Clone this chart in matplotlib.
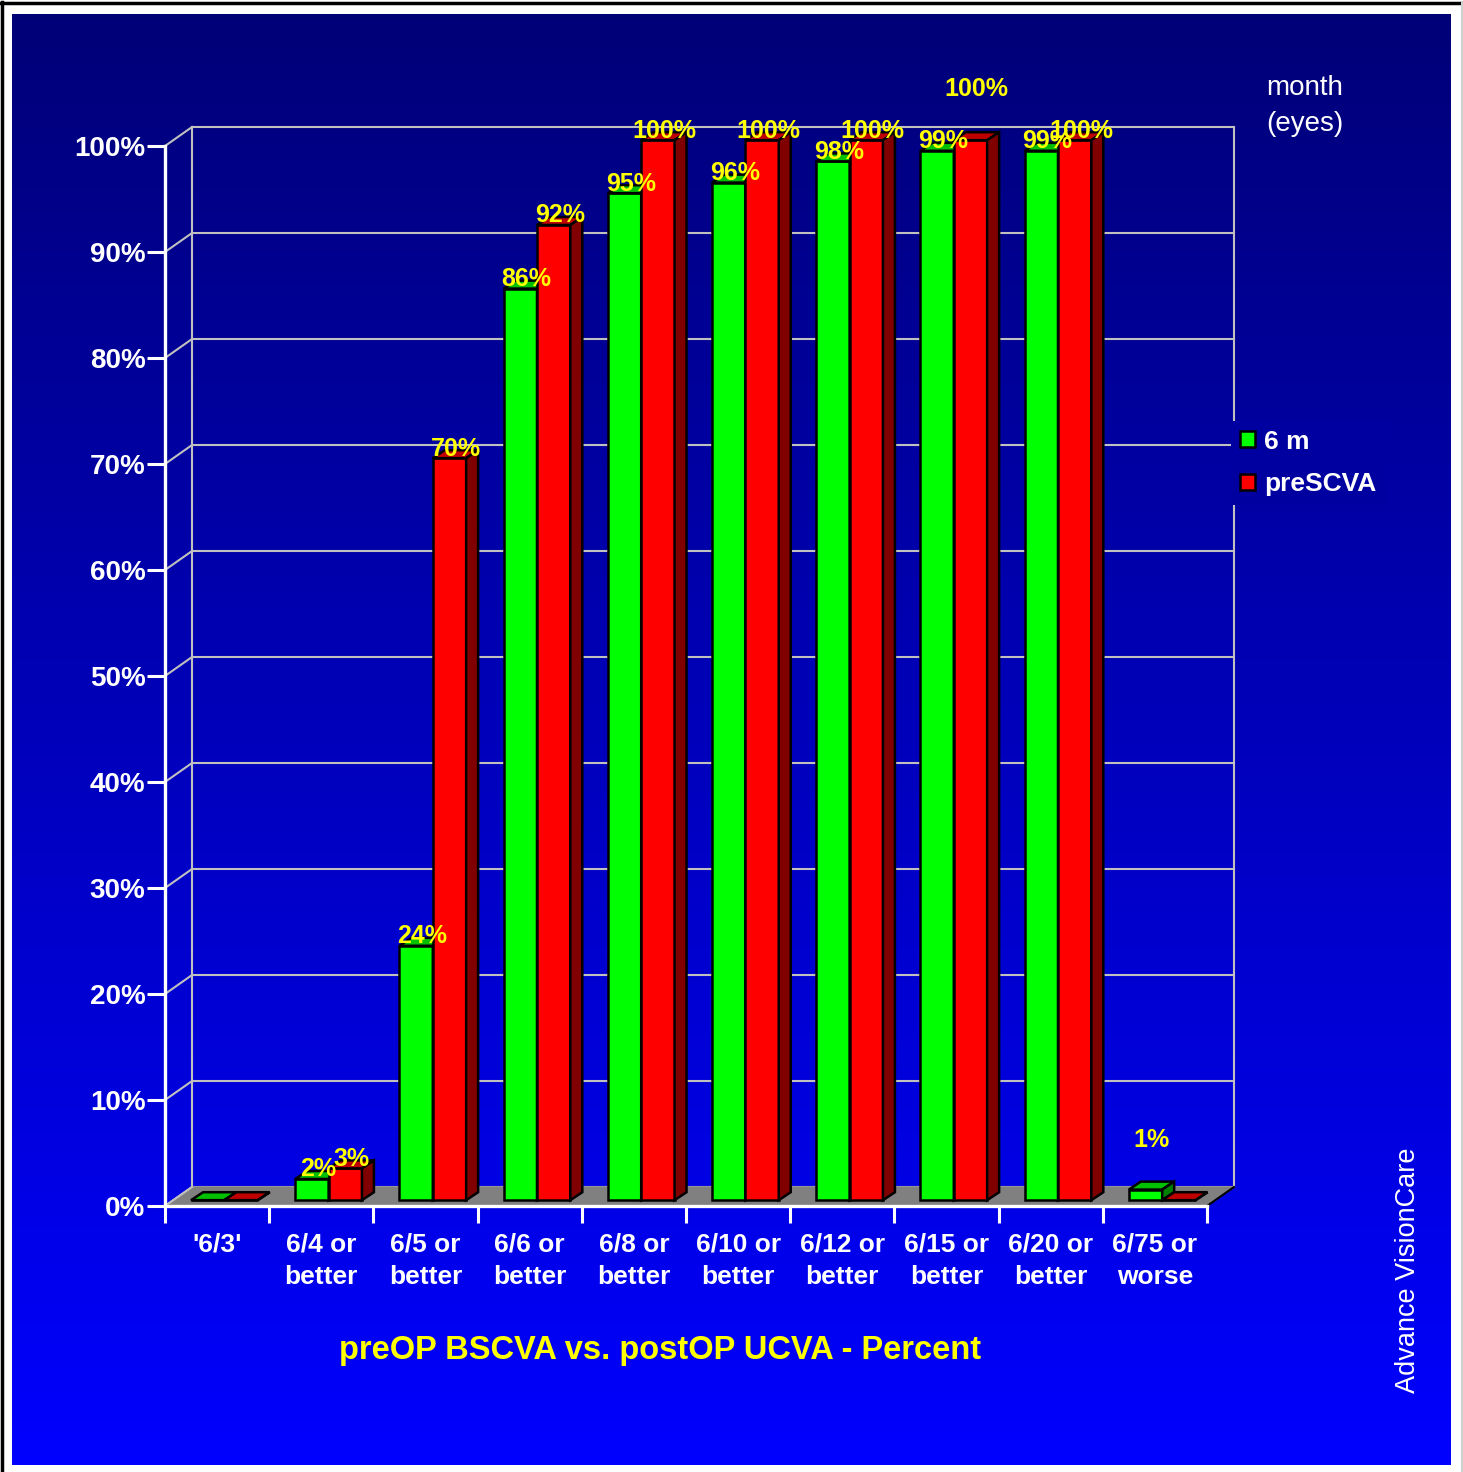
import numpy as np
import matplotlib
matplotlib.use("Agg")
import matplotlib.pyplot as plt
from matplotlib.colors import LinearSegmentedColormap
from matplotlib.patches import Polygon

plt.rcParams['font.family'] = ['Liberation Sans', 'DejaVu Sans']

# chart data
categories = ["'6/3'", "6/4 or\nbetter", "6/5 or\nbetter", "6/6 or\nbetter", "6/8 or\nbetter",
              "6/10 or\nbetter", "6/12 or\nbetter", "6/15 or\nbetter", "6/20 or\nbetter", "6/75 or\nworse"]
six_m = [0, 2, 24, 86, 95, 96, 98, 99, 99, 1]
pre_scva = [0, 3, 70, 92, 100, 100, 100, 100, 100, 0]
series_names = ["6 m", "preSCVA"]
y_ticks = [0, 10, 20, 30, 40, 50, 60, 70, 80, 90, 100]
y_tick_labels = [str(t) + "%" for t in y_ticks]

W, H = 1463, 1472
fig = plt.figure(figsize=(W / 100, H / 100), dpi=100)
fig.patch.set_facecolor("white")

# background (pixel coords)
bg = fig.add_axes([0, 0, 1, 1])
bg.set_xlim(0, W)
bg.set_ylim(H, 0)
bg.axis("off")
blues = LinearSegmentedColormap.from_list("bl", [(0, 0, 0.47), (0, 0, 1.0)])
grad = np.linspace(0, 1, 256).reshape(-1, 1)
bg.imshow(grad, extent=[12, 1451, 1465, 14], aspect="auto", cmap=blues, origin="upper")
bg.plot([1.5, 1.5], [2, H], color="black", lw=2.5)
bg.plot([0, W - 1], [3, 3], color="black", lw=2.5)
bg.plot([1461.5, 1461.5], [3, H], color="#d0d0d0", lw=1.5)

def grad_color(ypix):
    return blues((ypix - 14) / (1465 - 14))

bg.text(1305, 88, "month", color="white", fontsize=20, ha="center", va="center")
bg.text(1305, 124, "(eyes)", color="white", fontsize=20, ha="center", va="center")
bg.text(660, 1351, "preOP BSCVA vs. postOP UCVA - Percent", color="#FFFF00",
        fontsize=23.5, fontweight="bold", ha="center", va="center")
bg.text(1408, 1270, "Advance VisionCare", color="white", fontsize=19.5, rotation=90,
        ha="center", va="center")

# main axes = front plane of the 3d box
ax = fig.add_axes([165 / W, 1 - 1206 / H, 1042 / W, 1060 / H])
ax.set_xlim(0, 10)
ax.set_ylim(0, 100)
ax.patch.set_visible(False)

DX, DY = 0.259, 1.79      # depth of the box
BASE, X0, BW = 0.55, 0.25, 0.32
SX, SY = 0.115, 0.75      # depth of a bar
grid_c = "#C0C0C0"

# back wall + side wall lines
for t in y_ticks:
    ax.plot([DX, 10 + DX], [t + DY, t + DY], color=grid_c, lw=1.5, zorder=1, clip_on=False)
    ax.plot([0, DX], [t, t + DY], color=grid_c, lw=1.5, zorder=1, clip_on=False)
ax.plot([DX, DX], [DY, 100 + DY], color=grid_c, lw=1.5, zorder=1, clip_on=False)
ax.plot([10 + DX, 10 + DX], [DY, 100 + DY], color=grid_c, lw=1.5, zorder=1, clip_on=False)

# floor
ax.fill([0, 10, 10 + DX, DX], [0, 0, DY, DY], color="#808080", zorder=2, clip_on=False)
ax.plot([10, 10 + DX], [0, DY], color="black", lw=1.5, zorder=2, clip_on=False)
ax.plot([0, DX], [0, DY], color=grid_c, lw=1.5, zorder=2, clip_on=False)

x = np.arange(len(categories))
styles = [("#00FF00", "#00C000", "#008000"), ("#FF0000", "#C00000", "#800000")]
handles = []
for k, vals in enumerate([six_m, pre_scva]):
    front, topc, sidec = styles[k]
    z = 3 + k
    b = ax.bar(x + X0 + k * BW, vals, width=BW, bottom=BASE, align="edge", color=front,
               edgecolor="black", lw=1.8, zorder=z, clip_on=False, label=series_names[k])
    handles.append(b)
    for i, v in enumerate(vals):
        x0 = i + X0 + k * BW
        top = BASE + v
        ax.add_patch(Polygon([(x0, top), (x0 + BW, top), (x0 + BW + SX, top + SY), (x0 + SX, top + SY)],
                             closed=True, facecolor=topc, edgecolor="black", lw=1.8, zorder=z, clip_on=False))
        ax.add_patch(Polygon([(x0 + BW, BASE), (x0 + BW + SX, BASE + SY), (x0 + BW + SX, top + SY), (x0 + BW, top)],
                             closed=True, facecolor=sidec, edgecolor="black", lw=1.8, zorder=z, clip_on=False))

# value labels
label_pos = {(1, 7): (7.79, 105.4), (0, 9): (9.47, 6.2)}
for k, vals in enumerate([six_m, pre_scva]):
    for i, v in enumerate(vals):
        if v == 0:
            continue
        xc, yc = label_pos.get((k, i), (i + X0 + k * BW + BW / 2 + 0.06, BASE + v + 0.9))
        ax.text(xc, yc, str(v) + "%", color="#FFFF00", fontsize=18, fontweight="bold",
                ha="center", va="center", zorder=8, clip_on=False)

# axes styling
for s in ["top", "right"]:
    ax.spines[s].set_visible(False)
for s in ["left", "bottom"]:
    ax.spines[s].set_color("white")
    ax.spines[s].set_linewidth(2.4)
    ax.spines[s].set_zorder(7)
ax.set_yticks(y_ticks)
ax.set_yticklabels(y_tick_labels, color="white", fontsize=20, fontweight="bold")
ax.tick_params(axis="y", direction="out", length=13, width=2.2, color="white", pad=1)
ax.set_xticks(range(11))
ax.set_xticklabels([])
ax.set_xticks(x + 0.5, minor=True)
ax.set_xticklabels(categories, minor=True, color="white", fontsize=19, fontweight="bold")
ax.tick_params(axis="x", which="major", direction="out", length=12, width=2.2, color="white")
ax.tick_params(axis="x", which="minor", length=0, pad=19)
for lbl in ax.get_xticklabels(minor=True):
    lbl.set_linespacing(1.45)

leg = ax.legend(handles=handles, labels=series_names, loc="center left",
                bbox_to_anchor=(1218 / W, 1 - 463 / H), bbox_transform=fig.transFigure,
                frameon=True, facecolor=grad_color(460), edgecolor="none", framealpha=1,
                fancybox=False, labelcolor="white", prop=dict(weight="bold", size=19),
                handlelength=0.55, handleheight=0.55, handletextpad=0.35, labelspacing=0.7,
                borderpad=0.35)
leg.set_zorder(10)

fig.savefig("out.png", dpi=100)
